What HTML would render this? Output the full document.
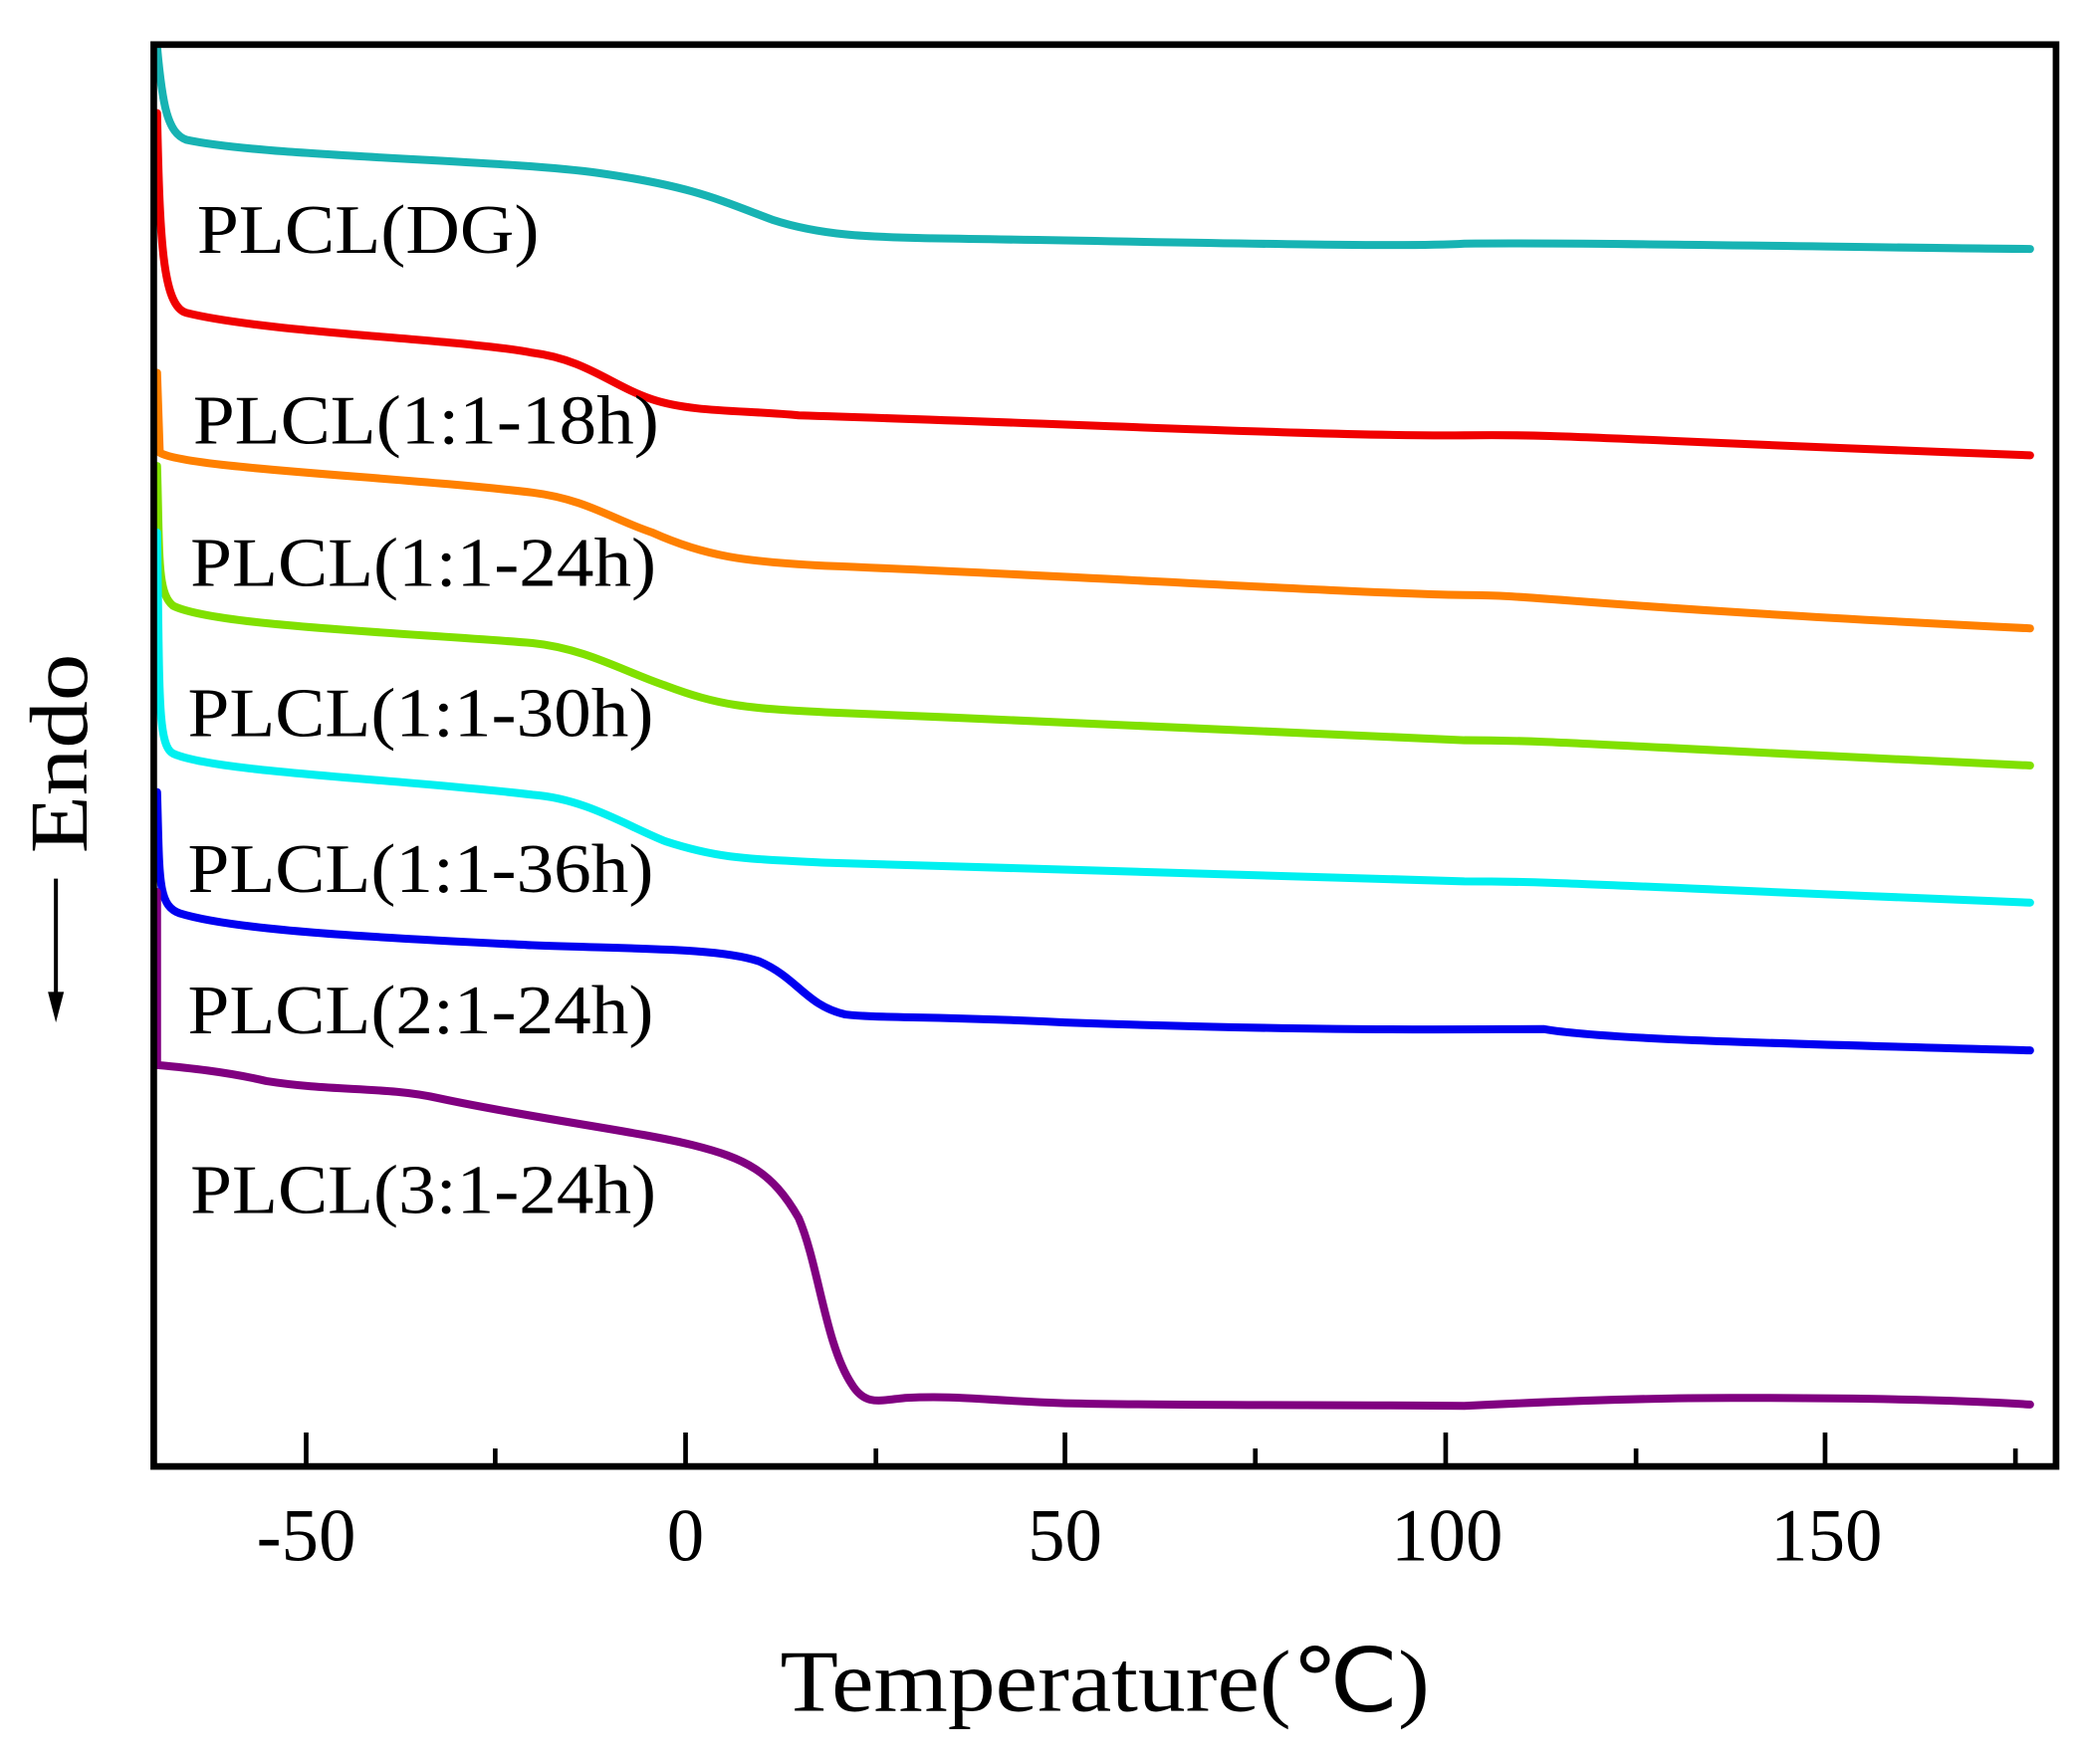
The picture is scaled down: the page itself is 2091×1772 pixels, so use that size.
<!DOCTYPE html>
<html><head><style>html,body{margin:0;padding:0;background:#fff}svg{display:block}</style></head>
<body>
<svg width="2091" height="1772" viewBox="0 0 1564 1325" preserveAspectRatio="none" xmlns="http://www.w3.org/2000/svg">
<g fill="none" stroke-width="6" stroke-linejoin="round" stroke-linecap="round">
<path stroke="#17b3b3" d="M118,35 C122,80 126,100 140,105 C200,118 380,120 450,130 C520,140 540,150 580,165 C620,178 660,178 700,179 C900,182 1050,186 1100,183 C1200,182 1400,186 1525,187"/>
<path stroke="#f00000" d="M118,85 C120,180 122,230 140,235 C200,250 350,255 400,265 C440,270 460,290 490,300 C520,310 560,308 600,312 C800,318 1000,328 1100,327 C1180,326 1200,330 1525,342"/>
<path stroke="#ff8000" d="M118,280 L120,340 C140,352 300,358 400,370 C440,375 460,390 490,400 C530,418 560,422 620,425 C800,432 1000,445 1100,447 C1160,447 1180,455 1525,472"/>
<path stroke="#80e000" d="M118,350 C120,420 118,445 130,455 C160,470 300,475 400,483 C440,487 470,505 500,515 C540,530 560,532 620,535 C800,542 1000,553 1100,556 C1170,556 1200,560 1525,575"/>
<path stroke="#00f0f0" d="M118,400 C120,520 118,560 130,566 C160,580 300,585 400,597 C440,600 470,620 500,632 C540,645 560,645 620,648 C800,653 1000,660 1100,662 C1170,662 1200,665 1525,678"/>
<path stroke="#0000f0" d="M118,595 C120,660 118,680 135,686 C180,700 300,705 400,710 C480,713 540,712 570,722 C600,735 605,755 635,762 C660,765 700,763 800,768 C1000,775 1100,773 1160,773 C1200,780 1300,783 1525,789"/>
<path stroke="#800080" d="M118,670 L118,800 C140,802 170,805 200,812 C250,820 290,816 330,825 C400,840 480,850 520,860 C560,870 580,880 600,915 C615,950 620,1010 640,1040 C650,1056 660,1052 680,1050 C720,1048 740,1052 800,1054 C900,1056 1000,1055 1100,1056 C1180,1052 1250,1050 1300,1050 C1400,1050 1480,1052 1525,1055"/>
</g>
<rect x="115.5" y="33.5" width="1429" height="1068" fill="none" stroke="#000" stroke-width="5"/>
<g stroke="#000" stroke-width="3.5">
<line x1="230" y1="1102" x2="230" y2="1076"/><line x1="515" y1="1102" x2="515" y2="1076"/><line x1="800" y1="1102" x2="800" y2="1076"/><line x1="1086" y1="1102" x2="1086" y2="1076"/><line x1="1371" y1="1102" x2="1371" y2="1076"/>
<line x1="372" y1="1102" x2="372" y2="1088"/><line x1="658" y1="1102" x2="658" y2="1088"/><line x1="943" y1="1102" x2="943" y2="1088"/><line x1="1229" y1="1102" x2="1229" y2="1088"/><line x1="1514" y1="1102" x2="1514" y2="1088"/>
</g>
<g font-family="Liberation Serif, serif" font-size="56" fill="#000" text-anchor="middle">
<text x="230" y="1172">-50</text><text x="515" y="1172">0</text><text x="800" y="1172">50</text><text x="1087" y="1172">100</text><text x="1372" y="1172">150</text>
<text x="830" y="1285" font-size="66" textLength="488" lengthAdjust="spacingAndGlyphs">Temperature(℃)</text>
</g>
<g font-family="Liberation Serif, serif" font-size="52" fill="#000" lengthAdjust="spacingAndGlyphs">
<text x="148" y="190" textLength="257" lengthAdjust="spacingAndGlyphs">PLCL(DG)</text>
<text x="145" y="333" textLength="350" lengthAdjust="spacingAndGlyphs">PLCL(1:1-18h)</text>
<text x="143" y="440" textLength="350" lengthAdjust="spacingAndGlyphs">PLCL(1:1-24h)</text>
<text x="141" y="553" textLength="350" lengthAdjust="spacingAndGlyphs">PLCL(1:1-30h)</text>
<text x="141" y="670" textLength="350" lengthAdjust="spacingAndGlyphs">PLCL(1:1-36h)</text>
<text x="141" y="776" textLength="350" lengthAdjust="spacingAndGlyphs">PLCL(2:1-24h)</text>
<text x="143" y="911" textLength="350" lengthAdjust="spacingAndGlyphs">PLCL(3:1-24h)</text>
</g>
<text transform="translate(65,566) rotate(-90)" font-family="Liberation Serif, serif" font-size="62" text-anchor="middle" textLength="150" lengthAdjust="spacingAndGlyphs">Endo</text>
<line x1="42" y1="660" x2="42" y2="755" stroke="#000" stroke-width="3"/>
<path d="M36,745 L42,768 L48,745 Z" fill="#000"/>
</svg>
</body></html>
